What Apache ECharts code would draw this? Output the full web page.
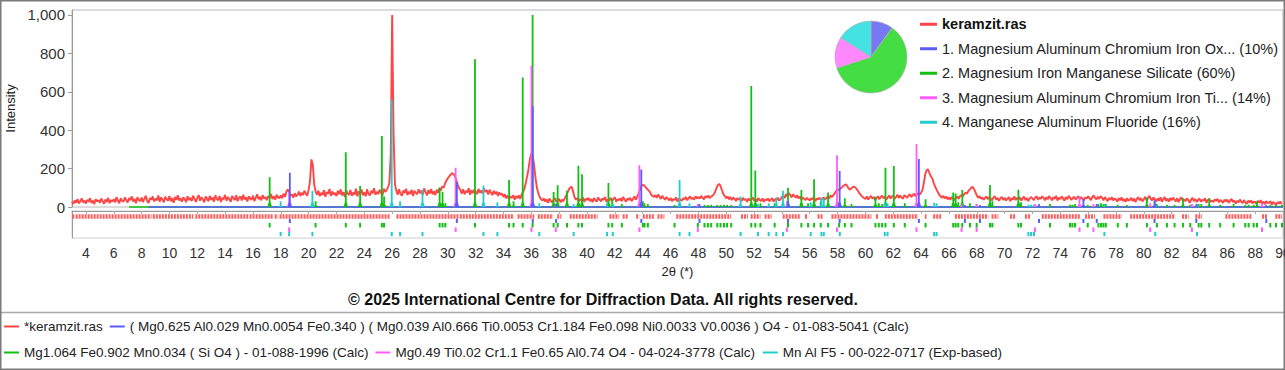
<!DOCTYPE html>
<html><head><meta charset="utf-8">
<script src="https://cdn.jsdelivr.net/npm/echarts@6/dist/echarts.min.js"></script>
<style>html,body{margin:0;padding:0;background:#fff}#c{width:1285px;height:370px}</style>
</head><body><div id="c"></div>
<script>
// ---------------- DATA ----------------
const obsStart = 3.0, obsStep = 0.1;
const obsIntensity = [
28,16,35,22,41,19,30,45,24,33,
18,38,27,46,21,34,15,40,29,36,
22,44,30,17,39,26,48,20,35,28,
41,24,52,31,19,45,33,27,50,36,
23,47,35,55,28,42,20,51,37,30,
49,26,43,58,32,21,47,38,55,29,
44,35,60,27,50,39,24,53,41,33,
57,30,46,22,52,38,61,34,45,28,
50,41,25,56,36,48,31,59,42,27,
46,62,33,51,39,24,55,44,30,58,
37,49,28,60,43,35,57,26,48,40,
63,32,52,41,27,58,45,36,61,30,
47,55,34,64,39,50,29,56,43,38,
59,31,48,66,40,53,35,62,44,51,
36,57,49,68,42,55,38,64,50,46,
61,45,70,52,80,92,78,58,66,49,
72,55,63,80,57,75,62,86,68,59,
90,135,248,220,118,80,64,85,56,74,
62,88,53,77,69,94,58,81,65,73,
57,84,66,92,60,78,52,87,70,63,
89,58,75,64,95,55,82,69,91,61,
76,56,93,68,60,85,71,98,63,80,
67,90,74,58,96,79,88,102,125,270,
1000,390,118,85,64,92,70,58,86,73,
95,62,80,68,90,57,84,74,66,92,
72,85,63,97,78,60,88,70,94,66,
81,62,90,74,99,86,108,100,122,138,
150,160,168,176,172,162,142,118,100,88,
70,92,66,84,76,98,64,88,72,90,
80,67,94,75,85,70,96,78,88,65,
90,74,62,85,68,80,58,76,64,70,
52,66,45,60,40,55,48,62,38,57,
46,60,42,65,78,95,125,160,200,250,
280,268,215,150,100,72,52,40,34,45,
28,40,22,44,31,25,38,47,27,35,
42,24,38,30,46,58,75,92,102,105,
80,52,38,46,28,41,33,50,26,44,
36,48,30,42,25,47,35,28,50,38,
29,45,37,52,26,40,33,48,31,43,
50,27,41,35,46,30,53,38,28,44,
37,48,30,42,55,38,52,70,90,108,
115,112,104,96,88,80,66,58,52,62,
48,64,55,42,58,47,38,52,44,35,
47,30,42,36,50,28,44,38,33,46,
40,52,35,46,55,42,48,38,56,45,
52,44,58,48,40,56,50,60,46,54,
58,66,78,98,115,120,108,86,66,57,
45,55,40,52,36,49,43,31,47,38,
44,30,48,36,41,27,45,34,39,50,
33,42,28,46,37,31,45,26,40,35,
44,30,38,47,28,42,35,49,33,40,
52,60,46,68,55,73,62,50,66,58,
48,62,44,55,38,50,42,36,48,40,
34,46,38,52,30,44,40,49,36,43,
50,38,47,56,44,60,52,62,72,84,
92,88,96,102,110,114,118,108,96,90,
98,104,106,100,90,80,68,60,52,47,
42,55,38,50,58,44,52,36,47,56,
40,52,59,45,54,38,50,60,43,55,
58,42,52,64,47,60,50,43,62,55,
48,60,66,52,62,70,55,64,72,66,
74,90,126,172,192,196,176,160,150,126,
108,92,78,64,56,48,58,44,55,40,
50,38,52,45,36,48,55,42,58,62,
56,68,74,70,84,92,100,106,94,78,
60,48,56,42,50,38,47,55,40,52,
44,35,50,56,38,47,32,45,52,37,
48,34,42,52,30,46,39,55,36,48,
40,50,33,45,54,36,47,31,44,52,
45,36,49,55,38,50,42,56,47,35,
52,40,57,46,35,51,43,58,34,48,
42,55,44,33,52,40,58,48,36,47,
53,38,48,57,41,52,43,35,50,44,
56,45,36,52,60,46,40,54,42,57,
48,35,52,42,30,47,38,51,34,45,
39,28,46,35,50,31,42,27,45,33,
37,48,30,44,26,42,52,35,46,29,
40,53,34,46,58,43,35,50,38,30,
45,33,50,27,40,52,31,44,28,47,
35,49,38,29,46,25,41,51,32,40,
30,45,36,22,39,48,31,42,26,37,
44,28,38,32,46,22,36,41,27,34,
25,40,32,43,24,37,30,21,38,29,
39,22,33,42,26,35,18,32,25,38,
29,20,36,24,16,33,23,35,19,28,
26,15,32,22,36,18,28,14,31,21,
22,30,13,26,19,10,25,17,29,14
];

// Phase 1 (blue) reflections [2theta, intensity]
const phase1Peaks = [[18.65,178],[30.65,130],[36.1,525],[37.78,15],[43.9,195],[48.08,15],[54.44,30],[58.15,188],[63.84,250],[67.15,10],[68.23,10],[72.47,15],[75.66,40],[76.62,15],[80.77,35],[83.77,15],[88.8,10]];
// Phase 2 (green)
const phase2Peaks = [[17.2,155],[20.5,30],[22.67,285],[23.7,110],[25.26,370],[25.42,55],[29.41,100],[29.62,80],[29.82,20],[31.95,770],[34.4,140],[34.72,30],[35.38,675],[36.09,1000],[37.6,78],[37.89,113],[38.56,85],[39.38,215],[39.64,170],[41.54,125],[41.81,40],[42.5,15],[44.01,30],[44.13,20],[44.37,15],[46.29,10],[47.96,10],[48.44,12],[48.68,10],[48.92,12],[49.36,10],[49.59,10],[49.84,12],[50.06,10],[50.36,10],[51.8,630],[52.09,190],[52.46,20],[53.48,20],[54.44,100],[55.4,88],[55.88,20],[56.31,144],[56.79,30],[57.32,75],[58.11,25],[58.52,45],[59.0,15],[60.72,54],[60.96,20],[61.2,15],[61.44,205],[62.04,213],[62.83,20],[64.32,40],[66.31,75],[66.48,70],[66.67,25],[66.96,88],[67.51,20],[67.99,15],[68.95,115],[69.12,30],[70.99,90],[71.18,25],[73.26,15],[74.7,12],[74.87,12],[75.06,15],[75.97,12],[76.74,15],[76.93,20],[77.1,15],[77.27,15],[78.13,12],[78.78,10],[80.22,50],[80.94,15],[81.66,12],[82.21,12],[82.81,45],[83.34,12],[83.94,15],[84.13,15],[84.7,45],[85.49,12],[86.45,15],[87.29,12],[87.53,12],[87.89,12],[88.13,30],[89.09,12],[89.5,10],[89.93,10]];
// Phase 3 (magenta)
const phase3Peaks = [[18.6,75],[30.56,205],[36.01,735],[37.76,15],[43.76,218],[47.96,15],[54.36,30],[57.96,270],[63.67,328],[66.91,15],[67.99,15],[72.18,15],[75.38,55],[76.38,15],[80.46,20],[83.46,15],[88.49,20]];
// Phase 4 (cyan)
const phase4Peaks = [[17.99,30],[18.6,25],[20.27,85],[25.97,560],[26.57,30],[28.18,90],[32.56,112],[33.56,25],[36.57,20],[39.04,15],[41.44,20],[41.85,15],[46.65,140],[47.36,20],[51.03,55],[52.28,15],[53.05,20],[53.6,50],[54.08,85],[56.07,25],[56.84,48],[57.01,45],[58.16,20],[61.39,25],[61.59,20],[64.94,22],[65.11,20],[71.71,12],[71.9,12],[72.11,12],[77.17,15],[80.82,25],[83.82,15]];
// start of the calculated profiles (zero baseline)
const phase2ProfileStart = 7.1;
const phase1ProfileStart = 8.5;
// ranges of marked peaks of the measured pattern (red marker row)
const observedMarkRanges = [[3.02,3.16],[3.26,8.71],[8.81,11.71],[11.86,15.66],[15.76,17.46],[17.56,17.81],[17.91,25.86],[26.31,30.76],[30.86,34.76],[35.01,36.21],[36.46,37.56],[37.86,38.16],[38.76,40.76],[41.61,42.31],[42.56,42.93],[43.53,43.76],[44.01,44.86],[45.06,45.56],[46.41,50.36],[51.06,51.56],[51.76,52.46],[52.76,53.26],[54.06,55.36],[55.66,55.86],[56.56,56.96],[57.56,60.43],[60.76,60.96],[61.39,63.79],[64.27,64.39],[64.87,65.47],[66.43,68.83],[69.06,69.55],[70.39,70.75],[71.46,71.82],[72.67,75.42],[75.78,76.5],[77.1,78.42],[79.02,82.26],[82.74,83.22],[83.7,84.18],[85.86,87.77],[88.49,88.85],[89.45,89.93]];
const phaseFractions = [10, 60, 14, 16];
const xTickValues = [4,6,8,10,12,14,16,18,20,22,24,26,28,30,32,34,36,38,40,42,44,46,48,50,52,54,56,58,60,62,64,66,68,70,72,74,76,78,80,82,84,86,88,90];
const yTickValues = [0,200,400,600,800,1000];

const obsName = '*keramzit.ras';
const p1Name = '( Mg0.625 Al0.029 Mn0.0054 Fe0.340 ) ( Mg0.039 Al0.666 Ti0.0053 Cr1.184 Fe0.098 Ni0.0033 V0.0036 ) O4 - 01-083-5041 (Calc)';
const p2Name = 'Mg1.064 Fe0.902 Mn0.034 ( Si O4 ) - 01-088-1996 (Calc)';
const p3Name = 'Mg0.49 Ti0.02 Cr1.1 Fe0.65 Al0.74 O4 - 04-024-3778 (Calc)';
const p4Name = 'Mn Al F5 - 00-022-0717 (Exp-based)';
const phaseLabels = {};
phaseLabels[obsName] = 'keramzit.ras';
phaseLabels[p1Name] = '1. Magnesium Aluminum Chromium Iron Ox... (10%)';
phaseLabels[p2Name] = '2. Magnesium Iron Manganese Silicate (60%)';
phaseLabels[p3Name] = '3. Magnesium Aluminum Chromium Iron Ti... (14%)';
phaseLabels[p4Name] = '4. Manganese Aluminum Fluoride (16%)';

// ---------------- STYLE ----------------
const C_OBS = '#ff4545', C1 = '#5b5bff', C2 = '#12bf12', C3 = '#ff5cff', C4 = '#22cccc';
const FONT = '"Liberation Sans", Arial, sans-serif';
const rowSpan = [[0.7,1.75],[1.75,2.65],[2.65,3.65],[3.65,4.65],[4.65,5.6]];

function stickRender(color){
  return function(params, api){
    const x = api.value(0), h = api.value(1);
    const b = api.coord([x, 0]), t = api.coord([x, h]);
    const ph = b[1] - t[1];
    const fh = Math.min(5, ph * 0.3);
    return {type:'polygon', silent:true, shape:{points:[[b[0]-2.3,b[1]],[b[0]-0.9,b[1]-fh],[t[0]-0.9,t[1]],[t[0]+0.9,t[1]],[b[0]+0.9,b[1]-fh],[b[0]+2.3,b[1]]]}, style:{fill:color}};
  };
}
function tickRender(row, color){
  return function(params, api){
    const x = api.value(0);
    const a = api.coord([x, rowSpan[row][0]]), c = api.coord([x, rowSpan[row][1]]);
    return {type:'rect', silent:true, shape:{x:a[0]-1, y:a[1], width:2, height:c[1]-a[1]}, style:{fill:color}};
  };
}
function rangeRender(params, api){
  const mid = (rowSpan[0][0] + rowSpan[0][1]) / 2;
  const a = api.coord([api.value(0), mid]);
  const c = api.coord([api.value(1), mid]);
  return {type:'line', silent:true, shape:{x1:a[0], y1:a[1], x2:c[0], y2:c[1]}, style:{stroke:'#ff5c5c', lineWidth:4.6, lineDash:[2,1]}};
}

const obsData = obsIntensity.map((v,i) => [+(obsStart + i*obsStep).toFixed(2), v]);

const chart = echarts.init(document.getElementById('c'), null, {renderer:'svg', width:1285, height:370});
const axisLabelStyle = {fontFamily: FONT, color:'#333'};

const option = {
  animation:false,
  backgroundColor:'#fff',
  textStyle:{fontFamily:FONT},
  grid:[
    {left:72, top:10, width:1211, height:197, show:true, borderColor:'#b8b8b8', borderWidth:1, containLabel:false, outerBoundsMode:'none'},
    {left:72, top:211, width:1211, height:27, show:true, borderColor:'#d0d0d0', borderWidth:1, containLabel:false, outerBoundsMode:'none'}
  ],
  xAxis:[
    {type:'value', gridIndex:0, min:3, max:90, show:false},
    {type:'value', gridIndex:1, min:3, max:90,
      axisLine:{show:true, lineStyle:{color:'#999'}},
      axisTick:{show:true, customValues:xTickValues, length:3, lineStyle:{color:'#aaa'}},
      axisLabel:Object.assign({customValues:xTickValues, fontSize:14, margin:8, hideOverlap:false}, axisLabelStyle),
      splitLine:{show:false},
      name:'2θ (*)', nameLocation:'middle', nameGap:27,
      nameTextStyle:{fontFamily:FONT, fontSize:13, color:'#222'}}
  ],
  yAxis:[
    {type:'value', gridIndex:0, min:0, max:1026,
      axisLine:{show:true, lineStyle:{color:'#999'}},
      axisTick:{show:true, customValues:yTickValues, length:4, lineStyle:{color:'#999'}},
      axisLabel:Object.assign({customValues:yTickValues, fontSize:15, margin:7, formatter:v => v.toLocaleString('en-US')}, axisLabelStyle),
      splitLine:{show:false},
      name:'Intensity', nameLocation:'middle', nameGap:47,
      nameTextStyle:{fontFamily:FONT, fontSize:13, color:'#222'}},
    {type:'value', gridIndex:1, min:0, max:6, inverse:true,
      axisLine:{show:true, lineStyle:{color:'#999'}}, axisTick:{show:false}, axisLabel:{show:false}, splitLine:{show:false}}
  ],
  legend:[
    {left:4, top:317, width:1120, padding:0, itemWidth:15, itemHeight:2, itemGap:7, icon:'rect', selectedMode:false,
      textStyle:{fontFamily:FONT, fontSize:13.5, color:'#222', lineHeight:19},
      data:[obsName, p1Name, p2Name, p3Name, p4Name]},
    {orient:'vertical', left:920, top:16, padding:0, itemWidth:17, itemHeight:3, itemGap:8, icon:'rect', selectedMode:false,
      textStyle:{fontFamily:FONT, fontSize:14.5, color:'#222', lineHeight:16.5,
        rich:{b:{fontFamily:FONT, fontSize:14.5, fontWeight:'bold', color:'#111', lineHeight:16.5}}},
      formatter: name => name === obsName ? '{b|' + phaseLabels[name] + '}' : phaseLabels[name],
      data:[obsName, p1Name, p2Name, p3Name, p4Name]}
  ],
  graphic:[
    {type:'text', x:603, y:299, silent:true,
      style:{text:'© 2025 International Centre for Diffraction Data. All rights reserved.', font:'bold 16px ' + FONT, fill:'#111', align:'center', verticalAlign:'middle', textAlign:'center', textVerticalAlign:'middle'}},
    {type:'line', silent:true, shape:{x1:1, y1:312.5, x2:1284, y2:312.5}, style:{stroke:'#a8a8a8', lineWidth:1.5}},
    {type:'rect', silent:true, shape:{x:0.75, y:0.75, width:1283.5, height:368.5}, style:{fill:'none', stroke:'#7a7a7a', lineWidth:1.5}}
  ],
  series:[
    {type:'line', name:obsName, xAxisIndex:0, yAxisIndex:0, data:obsData, symbol:'none', z:2,
      lineStyle:{color:C_OBS, width:1.9}, itemStyle:{color:C_OBS}},
    {type:'custom', name:obsName, xAxisIndex:1, yAxisIndex:1, data:observedMarkRanges, encode:{x:[0,1]}, renderItem:rangeRender, itemStyle:{color:C_OBS}, z:2},
    {type:'line', name:p2Name, xAxisIndex:0, yAxisIndex:0, data:[[phase2ProfileStart,0],[90,0]], symbol:'none', clip:false, z:3,
      lineStyle:{color:C2, width:1.5}, itemStyle:{color:C2}},
    {type:'line', name:p1Name, xAxisIndex:0, yAxisIndex:0, data:[[phase1ProfileStart,0],[90,0]], symbol:'none', clip:false, z:3,
      lineStyle:{color:C1, width:1.5}, itemStyle:{color:C1}},
    {type:'custom', name:p2Name, xAxisIndex:0, yAxisIndex:0, data:phase2Peaks, renderItem:stickRender(C2), itemStyle:{color:C2}, z:4},
    {type:'custom', name:p4Name, xAxisIndex:0, yAxisIndex:0, data:phase4Peaks, renderItem:stickRender(C4), itemStyle:{color:C4}, z:5},
    {type:'custom', name:p3Name, xAxisIndex:0, yAxisIndex:0, data:phase3Peaks, renderItem:stickRender(C3), itemStyle:{color:C3}, z:6},
    {type:'custom', name:p1Name, xAxisIndex:0, yAxisIndex:0, data:phase1Peaks, renderItem:stickRender(C1), itemStyle:{color:C1}, z:7},
    {type:'custom', name:p1Name, xAxisIndex:1, yAxisIndex:1, data:phase1Peaks, encode:{x:0}, renderItem:tickRender(1, C1), itemStyle:{color:C1}, z:3},
    {type:'custom', name:p2Name, xAxisIndex:1, yAxisIndex:1, data:phase2Peaks, encode:{x:0}, renderItem:tickRender(2, C2), itemStyle:{color:C2}, z:3},
    {type:'custom', name:p3Name, xAxisIndex:1, yAxisIndex:1, data:phase3Peaks, encode:{x:0}, renderItem:tickRender(3, C3), itemStyle:{color:C3}, z:3},
    {type:'custom', name:p4Name, xAxisIndex:1, yAxisIndex:1, data:phase4Peaks, encode:{x:0}, renderItem:tickRender(4, C4), itemStyle:{color:C4}, z:3},
    {type:'pie', name:'phase fractions', center:[871,57], radius:36, startAngle:90, clockwise:true, silent:true,
      label:{show:false}, labelLine:{show:false}, itemStyle:{borderColor:'#b0b0b0', borderWidth:0.6},
      data:[
        {name:'Phase 1', value:phaseFractions[0], itemStyle:{color:'#7878f4'}},
        {name:'Phase 2', value:phaseFractions[1], itemStyle:{color:'#44dd44'}},
        {name:'Phase 3', value:phaseFractions[2], itemStyle:{color:'#ff88ff'}},
        {name:'Phase 4', value:phaseFractions[3], itemStyle:{color:'#44e2e2'}}
      ]}
  ]
};
chart.setOption(option);
</script>
</body></html>
